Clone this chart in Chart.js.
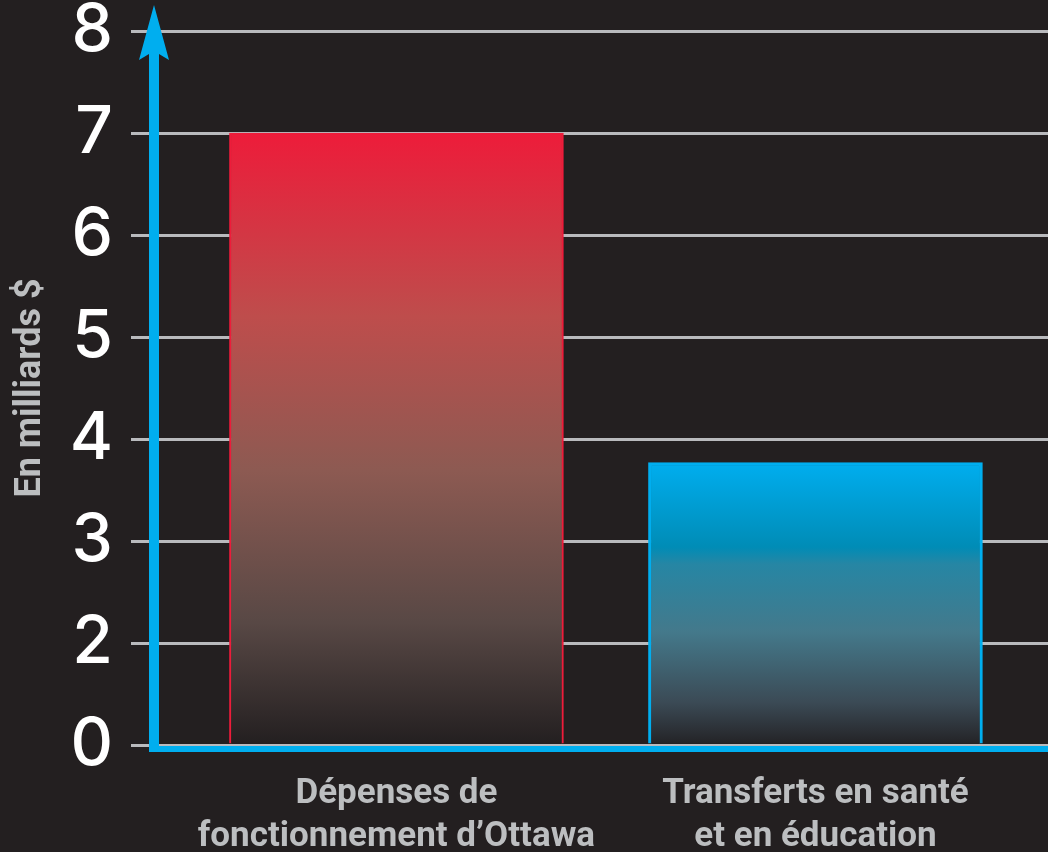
<!DOCTYPE html>
<html>
  <head>
    <title>Chart</title>
    <script src="https://cdn.jsdelivr.net/npm/chart.js"></script>
    <style>
      body { margin: 0; background: #231f20; }
      #wrap { width: 1048px; height: 852px; }
    </style>
  </head>
  <body>
    <div id="wrap"><canvas id="chart" width="1048" height="852"></canvas></div>
    <script>
// data (en milliards $)
const categories = [
  ['Dépenses de', 'fonctionnement d’Ottawa'],
  ['Transferts en santé', 'et en éducation']
];
const values = [7, 3.77];
// the original axis skips "1": labels are evenly spaced
const yTickLabels = ['0', '2', '3', '4', '5', '6', '7', '8'];

// value -> position on that uneven axis
function toAxis(v) {
  return v < 2 ? v / 2 : v - 1;
}

const blue = '#00aeef';
const gridGray = '#b9babd';
const labelGray = '#bcbec0';

const barStops = [
  [[0, '#ed1c3a'], [0.3, '#be4d4c'], [0.55, '#8d5a52'], [0.8, '#584845'], [1, '#231f20']],
  [[0, '#00aeef'], [0.3, '#008cb6'], [0.36, '#2686a4'], [0.6, '#44798b'], [0.85, '#3b4a55'], [1, '#232225']]
];

function barGradient(context) {
  const chart = context.chart;
  const y = chart.scales.y;
  if (!chart.chartArea || !y) return barStops[context.dataIndex][0][1];
  const top = y.getPixelForValue(toAxis(values[context.dataIndex]));
  const bottom = y.getPixelForValue(0);
  const g = chart.ctx.createLinearGradient(0, top, 0, bottom);
  barStops[context.dataIndex].forEach(s => g.addColorStop(s[0], s[1]));
  return g;
}

const background = {
  id: 'background',
  beforeDraw(chart) {
    const ctx = chart.ctx;
    ctx.save();
    ctx.fillStyle = '#231f20';
    ctx.fillRect(0, 0, chart.width, chart.height);
    ctx.restore();
  }
};

// blue L-shaped axes with the arrow on top
const axes = {
  id: 'axes',
  afterDraw(chart) {
    const ctx = chart.ctx;
    const area = chart.chartArea;
    const y = chart.scales.y;
    const x0 = area.left + 1;
    const yZero = y.getPixelForValue(0) + 4;
    const yTop = y.getPixelForValue(7);
    ctx.save();
    ctx.fillStyle = blue;
    ctx.fillRect(x0 - 5, yTop + 18, 10, yZero + 3 - (yTop + 18));
    ctx.fillRect(x0 - 5, yZero - 3, chart.width - x0 + 5, 6);
    ctx.beginPath();
    ctx.moveTo(x0, yTop - 26);
    ctx.lineTo(x0 + 15, yTop + 29);
    ctx.lineTo(x0, yTop + 20);
    ctx.lineTo(x0 - 15, yTop + 29);
    ctx.closePath();
    ctx.fill();
    ctx.restore();
  }
};

new Chart(document.getElementById('chart'), {
  type: 'bar',
  data: {
    datasets: [{
      data: values.map((v, i) => ({ x: i + 1, y: toAxis(v) })),
      backgroundColor: barGradient,
      borderColor: ['#ed1c3a', blue],
      borderWidth: [2, 3],
      borderSkipped: 'bottom',
      barThickness: 334
    }]
  },
  options: {
    responsive: false,
    animation: false,
    devicePixelRatio: 1,
    layout: { autoPadding: false, padding: { top: 31, left: 0, right: 0, bottom: 0 } },
    plugins: { legend: { display: false }, tooltip: { enabled: false } },
    scales: {
      x: {
        type: 'linear',
        min: 0.419,
        max: 2.555,
        offset: false,
        grid: { display: false },
        border: { display: false },
        afterBuildTicks: s => { s.ticks = categories.map((c, i) => ({ value: i + 1 })); },
        afterFit: s => { s.height = 107; s.paddingLeft = 0; s.paddingRight = 0; },
        ticks: {
          autoSkip: false,
          maxRotation: 0,
          padding: 19,
          color: labelGray,
          font: { family: 'Roboto', weight: 'bold', size: 35, lineHeight: 1.25 },
          callback: v => categories[v - 1] || ''
        }
      },
      y: {
        min: 0,
        max: 7,
        afterFit: s => { s.width = 153; s.paddingTop = 0; s.paddingBottom = 0; },
        grid: { color: gridGray, lineWidth: 3, tickLength: 22, tickColor: gridGray },
        border: { display: false },
        ticks: {
          stepSize: 1,
          padding: 18,
          color: '#ffffff',
          font: { family: 'Inter', weight: 500, size: 66 },
          callback: v => yTickLabels[v]
        },
        title: {
          display: true,
          text: 'En milliards $',
          color: labelGray,
          padding: { top: 9, bottom: 0 },
          font: { family: 'Roboto', weight: 'bold', size: 36 }
        }
      }
    }
  },
  plugins: [background, axes]
});
    </script>
  </body>
</html>
